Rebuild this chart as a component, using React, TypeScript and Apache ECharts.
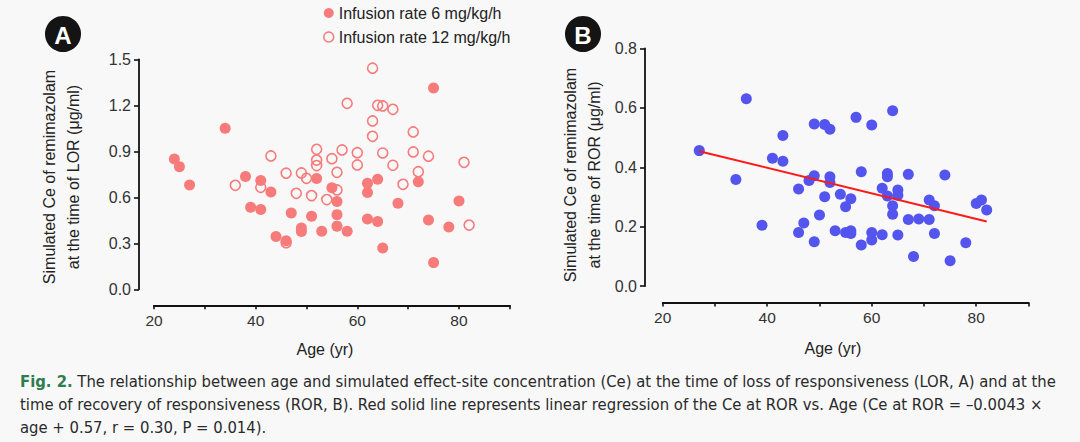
import React, { useEffect, useRef } from "react";
import * as echarts from "echarts";

// Panel A – infusion rate 6 mg/kg/h (filled)
const ageA6 = [34, 24, 25, 27, 38, 41, 43, 39, 41, 44, 46, 47, 49, 49, 51, 53, 52, 55, 56, 56, 56, 58, 62, 62, 64, 62, 64, 65, 68, 72, 74, 75, 75, 78, 80];
const ceA6 = [1.05, 0.85, 0.8, 0.68, 0.735, 0.71, 0.635, 0.535, 0.52, 0.345, 0.317, 0.498, 0.4, 0.377, 0.476, 0.378, 0.722, 0.663, 0.572, 0.487, 0.412, 0.378, 0.692, 0.632, 0.717, 0.459, 0.442, 0.269, 0.561, 0.702, 0.452, 1.313, 0.174, 0.406, 0.576];

// Panel A – infusion rate 12 mg/kg/h (open)
const ageA12 = [43, 36, 41, 46, 49, 50, 48, 51, 54, 52, 52, 52, 55, 56, 56, 46, 63, 58, 64, 65, 67, 63, 63, 71, 57, 60, 60, 65, 67, 71, 74, 81, 72, 69, 82];
const ceA12 = [0.87, 0.678, 0.665, 0.757, 0.759, 0.724, 0.626, 0.611, 0.585, 0.913, 0.843, 0.807, 0.852, 0.763, 0.648, 0.304, 1.442, 1.213, 1.2, 1.196, 1.174, 1.098, 0.998, 1.026, 0.909, 0.891, 0.811, 0.889, 0.809, 0.896, 0.868, 0.828, 0.767, 0.685, 0.419];

// Panel B – Ce at ROR
const ageB = [27, 36, 34, 39, 43, 41, 43, 49, 51, 52, 46, 48, 49, 52, 52, 51, 50, 47, 46, 49, 53, 54, 57, 60, 64, 58, 63, 63, 67, 74, 56, 55, 62, 63, 65, 65, 64, 64, 67, 69, 71, 71, 72, 72, 80, 81, 82, 78, 75, 68, 55, 56, 56, 60, 60, 62, 58, 65];
const ceB = [0.456, 0.631, 0.359, 0.205, 0.507, 0.43, 0.42, 0.546, 0.544, 0.528, 0.327, 0.355, 0.371, 0.368, 0.349, 0.301, 0.239, 0.212, 0.18, 0.149, 0.186, 0.309, 0.568, 0.542, 0.59, 0.385, 0.379, 0.368, 0.376, 0.374, 0.294, 0.267, 0.329, 0.303, 0.323, 0.306, 0.27, 0.242, 0.224, 0.226, 0.224, 0.29, 0.27, 0.177, 0.278, 0.29, 0.256, 0.146, 0.085, 0.099, 0.18, 0.186, 0.177, 0.18, 0.155, 0.173, 0.138, 0.172];

// Regression line end points (Ce at ROR = −0.0043 × age + 0.57)
const regAge = [27, 82];
const regCe = [0.454, 0.217];

const xTicks = [20, 40, 60, 80];
const seriesNames = ["Infusion rate 6 mg/kg/h", "Infusion rate 12 mg/kg/h"];

const RED = "#f77b7b";
const BLUE = "#5454ef";
const LINE_RED = "#ff1a1a";
const FONT = "'Liberation Sans', Arial, Helvetica, sans-serif";
const TXT = "#333333";

const pair = (xs: number[], ys: number[]) => xs.map((x, i) => [x, ys[i]]);

function xAxis(gridIndex: number, offset: number) {
  return {
    type: "value",
    gridIndex,
    min: 20,
    max: 90,
    interval: 10,
    offset,
    axisLine: { show: true, onZero: false, lineStyle: { color: "#111", width: 1.8 } },
    axisTick: { show: true, length: 4, lineStyle: { color: "#111", width: 1.6 } },
    axisLabel: {
      margin: 7,
      fontSize: 15.5,
      fontFamily: FONT,
      color: TXT,
      formatter: (v: number) => (xTicks.includes(v) ? String(v) : ""),
    },
    splitLine: { show: false },
  };
}

function yAxis(gridIndex: number, max: number, interval: number, offset: number) {
  return {
    type: "value",
    gridIndex,
    min: 0,
    max,
    interval,
    offset,
    axisLine: { show: true, onZero: false, lineStyle: { color: "#111", width: 1.8 } },
    axisTick: { show: true, length: 5, lineStyle: { color: "#111", width: 1.6 } },
    axisLabel: {
      margin: 8,
      fontSize: 16,
      fontFamily: FONT,
      color: TXT,
      formatter: (v: number) => v.toFixed(1),
    },
    splitLine: { show: false },
  };
}

function badge(cx: number, cy: number, letter: string) {
  return {
    type: "group",
    children: [
      { type: "circle", shape: { cx, cy, r: 18 }, style: { fill: "#141414" } },
      {
        type: "text",
        x: cx,
        y: cy + 1,
        style: {
          text: letter,
          fill: "#ffffff",
          font: `bold 24px ${FONT}`,
          align: "center",
          verticalAlign: "middle",
        },
      },
    ],
  };
}

function yTitle(cx: number, cy: number, text: string) {
  return {
    type: "text",
    x: cx,
    y: cy,
    rotation: Math.PI / 2,
    style: {
      text,
      fill: "#222",
      font: `16px ${FONT}`,
      lineHeight: 24,
      align: "center",
      verticalAlign: "middle",
    },
  };
}

function xTitle(cx: number, cy: number) {
  return {
    type: "text",
    x: cx,
    y: cy,
    style: { text: "Age (yr)", fill: "#222", font: `16px ${FONT}`, align: "center", verticalAlign: "middle" },
  };
}

const CAP_FONT = "'Liberation Sans Narrow', 'DejaVu Sans Condensed', 'Roboto Condensed', Arial, sans-serif";
const capLines = [
  "The relationship between age and simulated effect-site concentration (Ce) at the time of loss of responsiveness (LOR, A) and at the",
  "time of recovery of responsiveness (ROR, B). Red solid line represents linear regression of the Ce at ROR vs. Age (Ce at ROR = \u20130.0043 \u00d7",
  "age + 0.57, r = 0.30, P = 0.014).",
];

export default function App() {
  const ref = useRef<HTMLDivElement>(null);
  useEffect(() => {
    if (!ref.current) return;
    const chart = echarts.init(ref.current, null, { renderer: "svg" });
    const option: any = {
      animation: false,
      backgroundColor: "#f8f8f8",
      grid: [
        { left: 154, top: 59.3, width: 355.8, height: 230 },
        { left: 662.7, top: 48.5, width: 365.8, height: 237.5 },
      ],
      xAxis: [xAxis(0, 16), xAxis(1, 16.5)],
      yAxis: [yAxis(0, 1.5, 0.3, 15), yAxis(1, 0.8, 0.2, 17.7)],
      legend: {
        orient: "vertical",
        left: 323,
        top: 4,
        padding: 0,
        itemWidth: 10,
        itemHeight: 10,
        itemGap: 6,
        icon: "circle",
        textStyle: { fontSize: 16, fontFamily: FONT, color: "#222", lineHeight: 18, padding: [0, 0, 0, 0] },
        data: [
          { name: seriesNames[0], icon: "circle", itemStyle: { color: RED, borderWidth: 0 } },
          { name: seriesNames[1], icon: "circle", itemStyle: { color: "rgba(0,0,0,0)", borderColor: RED, borderWidth: 1.5 } },
        ],
        selectedMode: false,
      },
      series: [
        {
          name: seriesNames[1],
          type: "scatter",
          xAxisIndex: 0,
          yAxisIndex: 0,
          symbol: "circle",
          symbolSize: 10,
          itemStyle: { color: "rgba(0,0,0,0)", borderColor: RED, borderWidth: 1.6, opacity: 1 },
          data: pair(ageA12, ceA12),
        },
        {
          name: seriesNames[0],
          type: "scatter",
          xAxisIndex: 0,
          yAxisIndex: 0,
          symbol: "circle",
          symbolSize: 11,
          itemStyle: { color: RED, opacity: 1 },
          data: pair(ageA6, ceA6),
        },
        {
          name: "ROR",
          type: "scatter",
          xAxisIndex: 1,
          yAxisIndex: 1,
          symbol: "circle",
          symbolSize: 11,
          itemStyle: { color: BLUE, opacity: 1 },
          data: pair(ageB, ceB),
        },
        {
          name: "Regression",
          type: "line",
          xAxisIndex: 1,
          yAxisIndex: 1,
          showSymbol: false,
          symbol: "none",
          lineStyle: { color: LINE_RED, width: 2 },
          data: pair(regAge, regCe),
          z: 5,
        },
      ],
      graphic: [
        badge(63, 34, "A"),
        badge(583, 34, "B"),
        yTitle(61, 177, "Simulated Ce of remimazolam\nat the time of LOR (\u03bcg/ml)"),
        yTitle(582, 175, "Simulated Ce of remimazolam\nat the time of ROR (\u03bcg/ml)"),
        xTitle(325, 349),
        xTitle(833, 348),
        {
          type: "text",
          x: 20,
          y: 381,
          style: {
            text: "{b|Fig. 2.} " + capLines[0],
            fill: "#2a2a2a",
            font: `16.5px ${CAP_FONT}`,
            verticalAlign: "middle",
            rich: {
              b: { fill: "#2e7d4f", fontWeight: "bold", fontSize: 16.5, fontFamily: CAP_FONT },
            },
          },
        },
        {
          type: "text",
          x: 20,
          y: 404,
          style: { text: capLines[1], fill: "#2a2a2a", font: `16.5px ${CAP_FONT}`, verticalAlign: "middle" },
        },
        {
          type: "text",
          x: 20,
          y: 427,
          style: { text: capLines[2], fill: "#2a2a2a", font: `16.5px ${CAP_FONT}`, verticalAlign: "middle" },
        },
      ],
    };
    chart.setOption(option);
    return () => chart.dispose();
  }, []);
  return (
    <div
      ref={ref}
      style={{ position: "fixed", left: 0, top: 0, width: 1080, height: 442, background: "#f8f8f8" }}
    />
  );
}
